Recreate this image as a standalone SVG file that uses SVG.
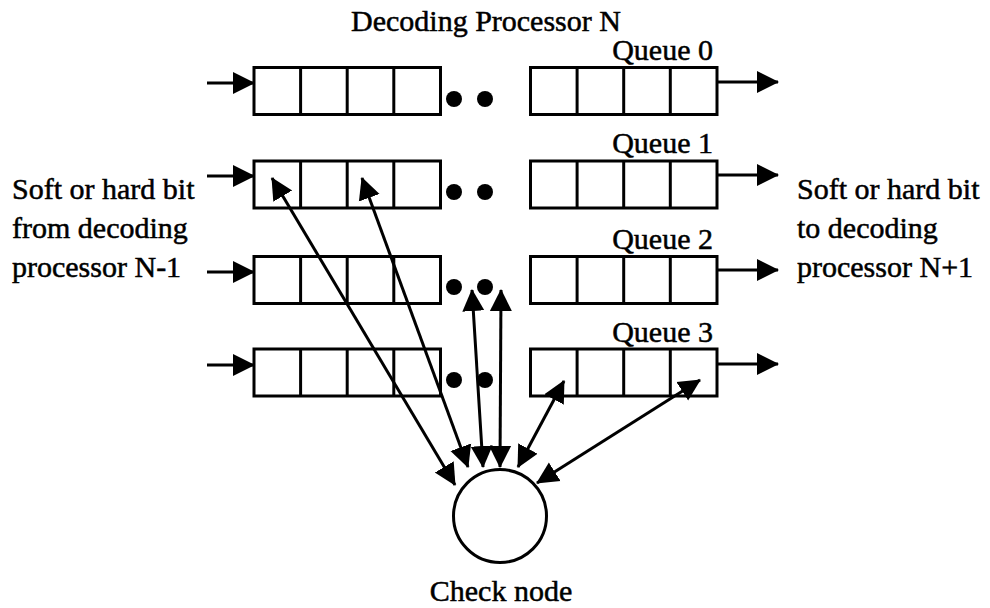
<svg xmlns="http://www.w3.org/2000/svg" width="990" height="608" viewBox="0 0 990 608">
  <defs>
    <style>
      .box { fill: #ffffff; stroke: #000000; stroke-width: 3; }
      .div { stroke: #000000; stroke-width: 3; }
      .dot { fill: #000000; }
      .wire { stroke: #000000; stroke-width: 3; fill: none; }
      .one { marker-end: url(#ah); }
      .two { marker-start: url(#ah); marker-end: url(#ah); }
      text { font-family: "Liberation Serif", "Times New Roman", serif; font-size: 30px; fill: #000000; stroke: #000000; stroke-width: 0.5; }
      .qlabel { text-anchor: end; }
      .mid { text-anchor: middle; }
    </style>
    <marker id="ah" viewBox="0 0 22 24" refX="21" refY="12" markerWidth="22" markerHeight="24" markerUnits="userSpaceOnUse" orient="auto-start-reverse">
      <path d="M0,1 L22,12 L0,23 Z" fill="#000000"/>
    </marker>
    <!-- four-cell queue segment, origin at top-left -->
    <g id="cells">
      <rect class="box" x="0" y="0" width="186.5" height="47"/>
      <line class="div" x1="46.6" y1="0" x2="46.6" y2="47"/>
      <line class="div" x1="93.2" y1="0" x2="93.2" y2="47"/>
      <line class="div" x1="139.8" y1="0" x2="139.8" y2="47"/>
    </g>
  </defs>

  <rect width="990" height="608" fill="#ffffff"/>

  <g id="title">
    <text x="351" y="31">Decoding Processor N</text>
  </g>

  <g id="input-label">
    <text x="12" y="199">Soft or hard bit</text>
    <text x="12" y="238">from decoding</text>
    <text x="12" y="277">processor N-1</text>
  </g>

  <g id="output-label">
    <text x="797" y="199">Soft or hard bit</text>
    <text x="797" y="238">to decoding</text>
    <text x="797" y="277">processor N+1</text>
  </g>

  <g id="queue0">
    <use href="#cells" x="254" y="67.5"/>
    <circle class="dot" cx="454" cy="99" r="8"/>
    <circle class="dot" cx="485" cy="99" r="8"/>
    <use href="#cells" x="530.5" y="67.5"/>
    <text class="qlabel" x="713" y="60">Queue 0</text>
  </g>

  <g id="queue1">
    <use href="#cells" x="254" y="161"/>
    <circle class="dot" cx="454" cy="192" r="8"/>
    <circle class="dot" cx="485" cy="192" r="8"/>
    <use href="#cells" x="530.5" y="161"/>
    <text class="qlabel" x="713" y="153">Queue 1</text>
  </g>

  <g id="queue2">
    <use href="#cells" x="254" y="256.5"/>
    <circle class="dot" cx="454" cy="287" r="8"/>
    <circle class="dot" cx="485" cy="287" r="8"/>
    <use href="#cells" x="530.5" y="256.5"/>
    <text class="qlabel" x="713" y="249">Queue 2</text>
  </g>

  <g id="queue3">
    <use href="#cells" x="254" y="349"/>
    <circle class="dot" cx="454" cy="380" r="8"/>
    <circle class="dot" cx="485" cy="380" r="8"/>
    <use href="#cells" x="530.5" y="349"/>
    <text class="qlabel" x="713" y="342">Queue 3</text>
  </g>

  <g id="check-node">
    <circle cx="500" cy="516" r="46.5" fill="#ffffff" stroke="#000000" stroke-width="3"/>
    <text class="mid" x="501" y="601">Check node</text>
  </g>

  <g id="connectors">
    <!-- bits entering each queue -->
    <line class="wire one" x1="207" y1="83" x2="254" y2="83"/>
    <line class="wire one" x1="207" y1="176" x2="254" y2="176"/>
    <line class="wire one" x1="207" y1="272" x2="254" y2="272"/>
    <line class="wire one" x1="207" y1="365" x2="254" y2="365"/>
    <!-- bits leaving each queue -->
    <line class="wire one" x1="717" y1="82" x2="778" y2="82"/>
    <line class="wire one" x1="717" y1="175" x2="778" y2="175"/>
    <line class="wire one" x1="717" y1="270" x2="778" y2="270"/>
    <line class="wire one" x1="717" y1="364" x2="778" y2="364"/>
    <!-- two-way links between queue cells and the check node -->
    <line class="wire two" x1="272" y1="178" x2="455" y2="485"/>
    <line class="wire two" x1="362" y1="178" x2="468" y2="467"/>
    <line class="wire two" x1="472" y1="290" x2="483" y2="467"/>
    <line class="wire two" x1="501" y1="290" x2="500" y2="467"/>
    <line class="wire two" x1="564" y1="381" x2="518" y2="467"/>
    <line class="wire two" x1="700" y1="380" x2="537" y2="483"/>
  </g>
</svg>
